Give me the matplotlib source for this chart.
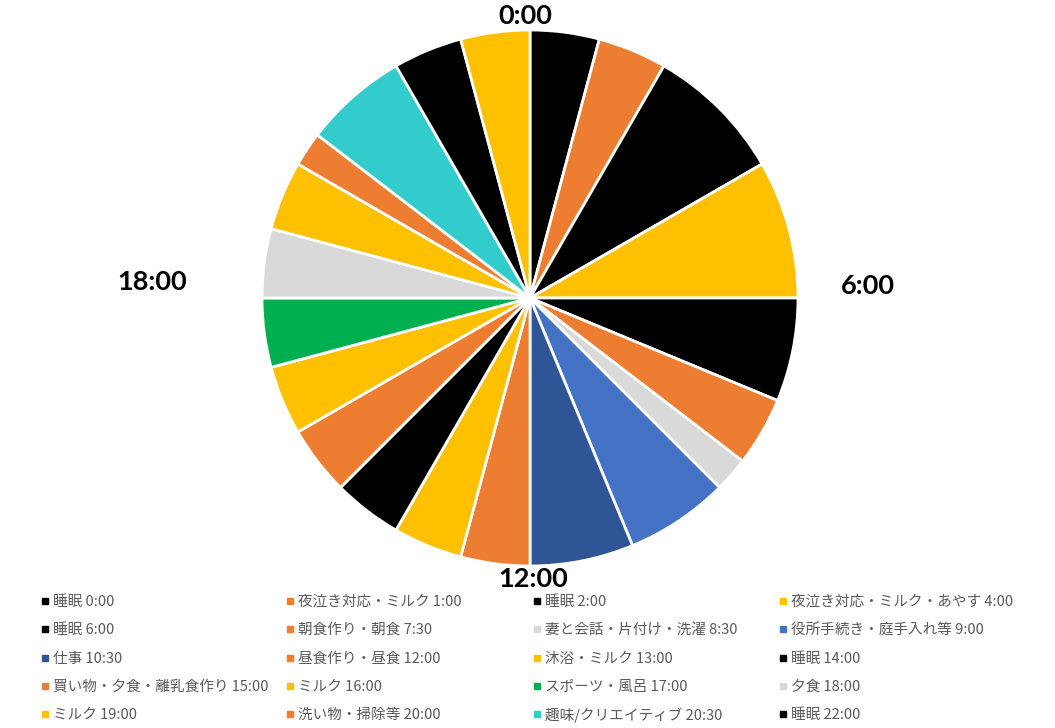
import matplotlib
matplotlib.use("Agg")
import matplotlib.pyplot as plt
from matplotlib.lines import Line2D

plt.rcParams['font.family'] = ['Noto Sans CJK JP', 'DejaVu Sans']

activities = ["睡眠", "夜泣き対応・ミルク", "睡眠", "夜泣き対応・ミルク・あやす",
              "睡眠", "朝食作り・朝食", "妻と会話・片付け・洗濯", "役所手続き・庭手入れ等",
              "仕事", "昼食作り・昼食", "沐浴・ミルク", "睡眠",
              "買い物・夕食・離乳食作り", "ミルク", "スポーツ・風呂", "夕食",
              "ミルク", "洗い物・掃除等", "趣味/クリエイティブ", "睡眠", "ミルク"]
start_times = ["0:00", "1:00", "2:00", "4:00", "6:00", "7:30", "8:30", "9:00",
               "10:30", "12:00", "13:00", "14:00", "15:00", "16:00", "17:00", "18:00",
               "19:00", "20:00", "20:30", "22:00", "23:00"]
durations = [1, 1, 2, 2, 1.5, 1, 0.5, 1.5, 1.5, 1, 1, 1, 1, 1, 1, 1, 1, 0.5, 1.5, 1, 1]

BLACK, ORANGE, YELLOW, GRAY = "#000000", "#ED7D31", "#FFC000", "#D9D9D9"
BLUE, DBLUE, GREEN, TEAL = "#4472C4", "#2F5597", "#00B050", "#33CCCC"
colors = [BLACK, ORANGE, BLACK, YELLOW, BLACK, ORANGE, GRAY, BLUE, DBLUE, ORANGE,
          YELLOW, BLACK, ORANGE, YELLOW, GREEN, GRAY, YELLOW, ORANGE, TEAL, BLACK, YELLOW]

hour_labels = ["0:00", "6:00", "12:00", "18:00"]
n_legend = 20

W, H = 1055, 728
fig = plt.figure(figsize=(W / 100, H / 100), dpi=100)
fig.patch.set_facecolor("white")

cx, cy, r = 530, 298, 268
ax = fig.add_axes([(cx - r) / W, (H - cy - r) / H, 2 * r / W, 2 * r / H])
ax.pie(durations, colors=colors, startangle=90, counterclock=False, radius=1,
       wedgeprops=dict(edgecolor="white", linewidth=2))
ax.set_xlim(-1, 1)
ax.set_ylim(-1, 1)
ax.set_aspect("equal")
ax.axis("off")

# hour labels
label_pos = [(525, 16), (868, 286), (533, 579), (152, 282)]
for txt, (px, py) in zip(hour_labels, label_pos):
    fig.text(px / W, 1 - py / H, txt, ha="center", va="center", fontsize=19.5,
             fontweight="bold", family=["Lato", "DejaVu Sans"], color="black")

# legend
col_x = [45, 290, 537, 783]
row_y = [601, 629, 658, 686, 714]
for i in range(n_legend):
    row, col = divmod(i, 4)
    mx, my = col_x[col], row_y[row]
    fig.add_artist(Line2D([mx / W], [1 - my / H], marker="s", markersize=4.5,
                          color=colors[i], linestyle="none", transform=fig.transFigure))
    fig.text((mx + 8) / W, 1 - (my + 1) / H, f"{activities[i]} {start_times[i]}",
             ha="left", va="center", fontsize=10.5, color="#595959")

fig.savefig("out.png", dpi=100, facecolor="white")
